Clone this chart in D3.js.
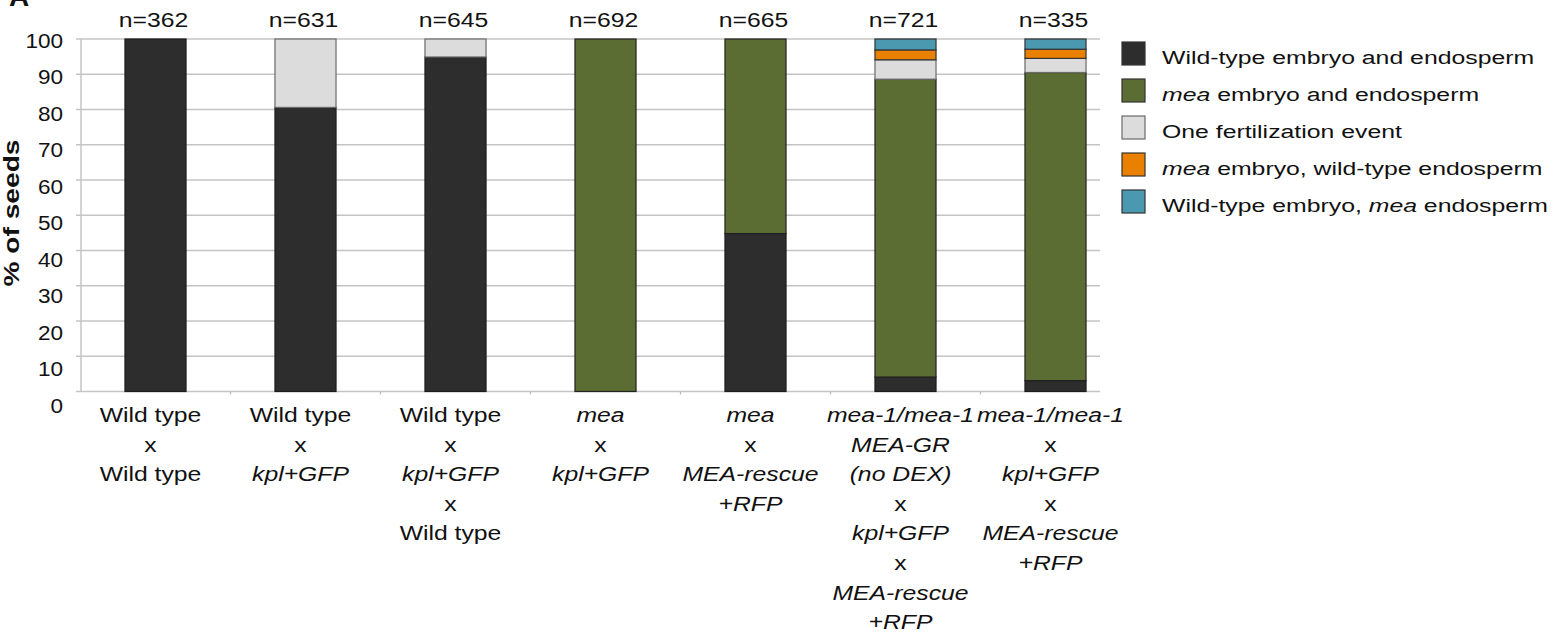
<!DOCTYPE html>
<html><head><meta charset="utf-8">
<script src="https://cdn.jsdelivr.net/npm/d3@7"></script>
<style>
html,body{margin:0;padding:0;background:#fff;}
svg{display:block;font-family:"Liberation Sans",Arial,sans-serif;}
</style></head>
<body>
<svg id="chart" width="1553" height="634"></svg>
<script>
// ---- data ----
const categories = [
  ["Wild type","x","Wild type"],
  ["Wild type","x","*kpl+GFP*"],
  ["Wild type","x","*kpl+GFP*","x","Wild type"],
  ["*mea*","x","*kpl+GFP*"],
  ["*mea*","x","*MEA-rescue*","*+RFP*"],
  ["*mea-1/mea-1*","*MEA-GR*","*(no DEX)*","x","*kpl+GFP*","x","*MEA-rescue*","*+RFP*"],
  ["*mea-1/mea-1*","x","*kpl+GFP*","x","*MEA-rescue*","*+RFP*"]
];
const nLabels = ["n=362","n=631","n=645","n=692","n=665","n=721","n=335"];
const wildTypeBoth   = [100, 80.6, 94.9, 0, 44.8, 4.1, 3.1];
const meaBoth        = [0, 0, 0, 100, 55.2, 84.5, 87.4];
const oneFertilization = [0, 19.4, 5.1, 0, 0, 5.5, 4.0];
const meaEmbryoWtEndo  = [0, 0, 0, 0, 0, 2.8, 2.6];
const wtEmbryoMeaEndo  = [0, 0, 0, 0, 0, 3.1, 2.9];
const seriesNames = ["Wild-type embryo and endosperm","*mea* embryo and endosperm","One fertilization event","*mea* embryo, wild-type endosperm","Wild-type embryo, *mea* endosperm"];
const seriesColors = ["#2d2d2d","#5b6d32","#dcdcdc","#ea8000","#4a99b1"];
const seriesStrokes = ["#1c1c1c","#222","#6a6a6a","#333","#333"];
const yTicks = [0,10,20,30,40,50,60,70,80,90,100];

// ---- layout ----
const svg = d3.select("#chart");
const FONT = 19.5, SX = 1.27;
const idx = d3.range(categories.length);
const x = d3.scaleBand().domain(idx).range([80.5, 1130.5]).paddingInner(0.593).paddingOuter(0.2965);
const y = d3.scaleLinear().domain([0,100]).range([391.5, 39]);
const yLab = d3.scaleLinear().domain([0,100]).range([406, 40.5]);
const gridRight = 1100, axisX = 81;

function richText(sel, str){
  const parts = str.split("*");
  parts.forEach((p,i)=>{ if(p.length) sel.append("tspan").attr("font-style", i%2 ? "italic":"normal").text(p); });
}
function stretchedText(parent, tx, ty, str, opts={}){
  const g = parent.append("g").attr("transform",`translate(${tx},${ty}) ${opts.rotate?`rotate(${opts.rotate})`:""} scale(${opts.sx||SX},1)`);
  const t = g.append("text").attr("x",0).attr("y",0)
    .attr("font-size", opts.size||FONT)
    .attr("font-weight", opts.weight||"normal")
    .attr("text-anchor", opts.anchor||"middle")
    .attr("fill","#111");
  richText(t, str);
  return t;
}

// gridlines
svg.append("g").selectAll("line").data(yTicks).join("line")
  .attr("x1", axisX).attr("x2", gridRight)
  .attr("y1", d=>y(d)).attr("y2", d=>y(d))
  .attr("stroke","#c4c4c4").attr("stroke-width",1.5);
// y axis line and ticks
svg.append("line").attr("x1",axisX).attr("x2",axisX).attr("y1",y(0)).attr("y2",y(100)).attr("stroke","#c4c4c4").attr("stroke-width",1.5);
svg.append("g").selectAll("line").data(yTicks).join("line")
  .attr("x1", axisX-5).attr("x2", axisX).attr("y1", d=>y(d)).attr("y2", d=>y(d))
  .attr("stroke","#c4c4c4").attr("stroke-width",1.5);
// x boundary ticks
svg.append("g").selectAll("line").data(d3.range(1,categories.length)).join("line")
  .attr("x1", d=>x(d)-x.step()*x.paddingInner()/2).attr("x2", d=>x(d)-x.step()*x.paddingInner()/2)
  .attr("y1", y(0)).attr("y2", y(0)+3)
  .attr("stroke","#b8b8b8").attr("stroke-width",1.2);

// y tick labels
const yAxisG = svg.append("g");
yTicks.forEach(v=>{
  stretchedText(yAxisG, 63, yLab(v)+7, String(v), {anchor:"end", size:20.5, sx:1.1});
});
// y title
stretchedText(svg, 19, 213, "% of seeds", {rotate:-90, size:22, weight:"bold", sx:1.28});
// panel letter (cut off at top, as in the source figure)
svg.append("text").attr("x",9).attr("y",6).attr("font-size",28).attr("font-weight","bold").attr("fill","#111").text("A");

// stacked bars
const series = [wildTypeBoth, meaBoth, oneFertilization, meaEmbryoWtEndo, wtEmbryoMeaEndo];
const table = idx.map(i=>{ const o={i}; series.forEach((s,k)=>o["s"+k]=s[i]); return o; });
const stack = d3.stack().keys(series.map((s,k)=>"s"+k))(table);
const barsG = svg.append("g");
stack.forEach((layer,k)=>{
  barsG.append("g").selectAll("rect").data(layer.filter(d=>d[1]-d[0]>0)).join("rect")
    .attr("x", d=>x(d.data.i)).attr("width", x.bandwidth())
    .attr("y", d=>y(d[1])).attr("height", d=>y(d[0])-y(d[1]))
    .attr("fill", seriesColors[k]).attr("stroke", seriesStrokes[k]).attr("stroke-width",1.2);
});

// n labels
idx.forEach(i=>{
  stretchedText(svg, x(i)+x.bandwidth()/2-2, 27, nLabels[i], {size:19.5});
});

// category labels
idx.forEach(i=>{
  categories[i].forEach((line,j)=>{
    stretchedText(svg, x(i)+x.bandwidth()/2-5, 422 + j*29.6, line, {size:19.5});
  });
});

// legend
const legG = svg.append("g");
seriesNames.forEach((name,k)=>{
  const cy = 53.5 + k*37;
  legG.append("rect").attr("x",1122).attr("y",cy-11.5).attr("width",23).attr("height",23)
    .attr("fill",seriesColors[k]).attr("stroke", k===2?"#6a6a6a":"#333").attr("stroke-width",1.2);
  stretchedText(legG, 1162, cy+10, name, {anchor:"start", size:18.8, sx:1.32});
});
</script>
</body></html>
